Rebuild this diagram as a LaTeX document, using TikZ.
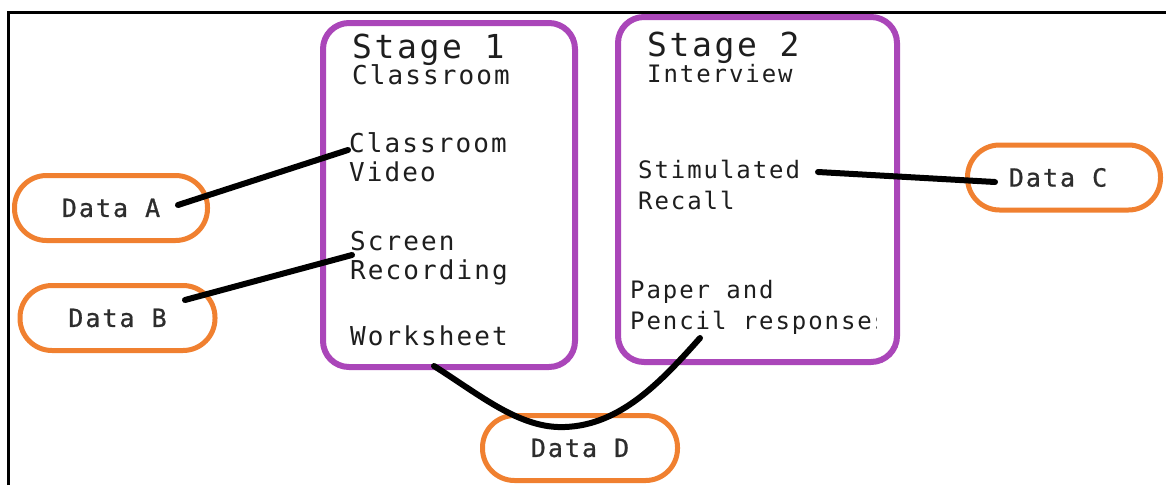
\documentclass[tikz,border=0pt]{standalone}
\usepackage{fontspec}
\newfontfamily\labelfont{DejaVu Sans Mono}[LetterSpace=8]
\newfontfamily\datafont{DejaVu Sans Mono}[LetterSpace=8, FakeBold=0.8]
\definecolor{stagepurple}{RGB}{170,70,185}
\definecolor{dataorange}{RGB}{240,128,48}
\definecolor{ink}{RGB}{30,30,30}
\definecolor{datatext}{RGB}{45,45,45}
\begin{document}
\begin{tikzpicture}[x=1pt,y=-1pt,
  stagebox/.style={draw=stagepurple, line width=6pt, rounded corners=26pt, fill=white, inner sep=0pt},
  databox/.style={draw=dataorange, line width=5pt, rounded corners=32pt, fill=white,
    minimum height=65pt, inner sep=0pt, text=datatext,
    font=\datafont\fontsize{25}{28}\selectfont},
  headline/.style={anchor=base west, inner sep=0pt, text=ink, font=\labelfont\fontsize{33}{36}\selectfont},
  subline/.style={anchor=base west, inner sep=0pt, text=ink, font=\labelfont\fontsize{26}{29}\selectfont},
  entry/.style={anchor=base west, inner sep=0pt, align=left, text=ink, font=\labelfont\fontsize{26}{29}\selectfont},
  entrysmall/.style={entry, font=\labelfont\fontsize{24}{31}\selectfont},
  link/.style={line width=6pt, line cap=round, black},
  frameline/.style={line width=3pt, black}
]
\useasboundingbox (0,0) rectangle (1166,485);

% outer frame (top and left edges only)
\draw[frameline] (8,485) -- (8,12) -- (1166,12);

% stage containers
\node[stagebox, minimum width=252pt, minimum height=344pt] (s1) at (449,195) {};
\node[stagebox, minimum width=279pt, minimum height=345pt] (s2) at (757.5,189.5) {};

% stage 1 texts (multi-line nodes are placed by the baseline of their last line)
\node[headline] (t1) at (352,58) {Stage 1};
\node[subline] (c1) at (352,84) {Classroom};
\node[entry] (vid) at (349,181) {Classroom\\Video};
\node[entry] (scr) at (350,279) {Screen\\Recording};
\node[entry] (work) at (350,345) {Worksheet};

% stage 2 texts
\node[headline] (t2) at (647,56) {Stage 2};
\node[subline, font=\labelfont\fontsize{24}{28}\selectfont] (c2) at (647,82) {Interview};
\node[entrysmall] (stim) at (638,209) {Stimulated\\Recall};
\begin{scope}
  \clip (600,265) rectangle (876,345);
  \node[entrysmall] (pap) at (630,329) {Paper and\\Pencil responses};
\end{scope}

% data sources
\node[databox, minimum width=193pt] (dA) at (111,208) {Data A};
\node[databox, minimum width=195pt] (dB) at (117.5,318) {Data B};
\node[databox, minimum width=193pt] (dC) at (1064,177.5) {\hspace*{-12pt}Data C};
\node[databox, minimum width=195pt] (dD) at (580,448) {Data D};

% connectors
\draw[link] ([shift={(67,-3)}]dA.center) -- ([shift={(-1,-31)}]vid.base west);
\draw[link] ([shift={(67.5,-18)}]dB.center) -- ([shift={(2,-24)}]scr.base west);
\draw[link] ([shift={(180,-37)}]stim.base west) -- ([shift={(-69,4.5)}]dC.center);
\draw[link] ([shift={(84,21)}]work.base west)
  .. controls ([shift={(-100,-18)}]dD.north) and ([shift={(-60,16)}]dD.north) .. ([shift={(-15,14)}]dD.north)
  .. controls ([shift={(40,12)}]dD.north) and ([shift={(80,-30)}]dD.north) .. ([shift={(70,9)}]pap.base west);
\end{tikzpicture}
\end{document}
